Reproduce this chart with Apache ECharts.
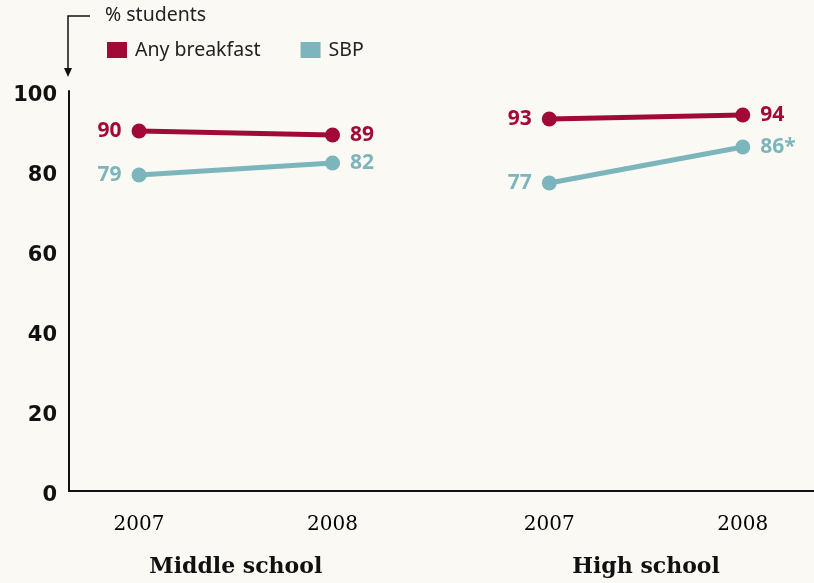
<!DOCTYPE html>
<html>
<head>
<meta charset="utf-8">
<script src="https://cdn.jsdelivr.net/npm/echarts@6/dist/echarts.min.js"></script>
<style>
  html, body { margin: 0; padding: 0; background: #faf9f4; }
  #chart { width: 814px; height: 583px; }
</style>
</head>
<body>
<div id="chart"></div>
<script>
var years = ['2007', '2008'];
var groups = ['Middle school', 'High school'];
var breakfast = [[90, 89], [93, 94]];
var sbp = [[79, 82], [77, 86]];
var sbpLabels = [['79', '82'], ['77', '86*']];
var yTicks = [0, 20, 40, 60, 80, 100];

var RED = '#a10a36';
var TEAL = '#7cb6bc';
var GROUP_GAP = 0.12;   // extra space between the two school groups

function xOf(g, i) { return g * (years.length + GROUP_GAP) + i; }

var yearPos = [], yearName = {}, groupPos = [], groupName = {};
groups.forEach(function (gname, g) {
    years.forEach(function (y, i) {
        var x = xOf(g, i);
        yearPos.push(x);
        yearName[x.toFixed(2)] = y;
    });
    var mid = (xOf(g, 0) + xOf(g, years.length - 1)) / 2;
    groupPos.push(mid);
    groupName[mid.toFixed(2)] = gname;
});

function makeSeries(name, color, values, labels) {
    return values.map(function (vals, g) {
        return {
            name: name,
            type: 'line',
            xAxisIndex: 0,
            symbol: 'circle',
            symbolSize: 15,
            color: color,
            lineStyle: { width: 5, color: color },
            itemStyle: { color: color },
            z: name === 'SBP' ? 2 : 3,
            data: vals.map(function (v, i) {
                return {
                    value: [xOf(g, i), v],
                    label: {
                        show: true,
                        position: i === 0 ? 'left' : 'right',
                        distance: 10,
                        formatter: labels ? labels[g][i] : String(v),
                        color: color,
                        fontFamily: 'Noto Sans',
                        fontWeight: 'bold',
                        fontSize: 21
                    }
                };
            })
        };
    });
}

var chart = echarts.init(document.getElementById('chart'));
var option = {
    backgroundColor: '#faf9f4',
    animation: false,
    legend: {
        left: 107,
        top: 40,
        padding: 0,
        icon: 'rect',
        itemWidth: 20,
        itemHeight: 16,
        itemGap: 40,
        textStyle: { fontFamily: 'Noto Sans', fontSize: 19.5, color: '#222', padding: [0, 0, 0, 3] },
        data: ['Any breakfast', 'SBP']
    },
    grid: { left: 69, right: 0, top: 91, bottom: 92 },
    xAxis: [{
        type: 'value',
        min: -0.362,
        max: 3.488,
        axisLine: { show: true, onZero: false, lineStyle: { color: '#111', width: 2 } },
        axisTick: { show: false },
        splitLine: { show: false },
        axisLabel: {
            customValues: yearPos,
            margin: 24,
            fontFamily: 'DejaVu Serif',
            fontSize: 20,
            color: '#000',
            formatter: function (v) { return yearName[v.toFixed(2)] || ''; }
        }
    }, {
        type: 'value',
        position: 'bottom',
        offset: 57,
        min: -0.362,
        max: 3.488,
        axisLine: { show: false },
        axisTick: { show: false },
        splitLine: { show: false },
        axisLabel: {
            customValues: groupPos,
            margin: 8,
            fontFamily: 'DejaVu Serif',
            fontWeight: 'bold',
            fontSize: 22,
            color: '#111',
            formatter: function (v) { return groupName[v.toFixed(2)] || ''; }
        }
    }],
    yAxis: {
        type: 'value',
        min: yTicks[0],
        max: yTicks[yTicks.length - 1],
        interval: 20,
        axisLine: { show: true, onZero: false, lineStyle: { color: '#111', width: 2 } },
        axisTick: { show: false },
        splitLine: { show: false },
        axisLabel: {
            margin: 12,
            verticalAlign: 'top',
            lineHeight: 10,
            fontFamily: 'DejaVu Sans',
            fontWeight: 'bold',
            fontSize: 21,
            color: '#111'
        }
    },
    graphic: [
        {
            type: 'polyline',
            shape: { points: [[90, 16], [68, 16], [68, 70]] },
            style: { stroke: '#111', lineWidth: 1.5, fill: null }
        },
        {
            type: 'polygon',
            shape: { points: [[64, 68], [72, 68], [68, 77]] },
            style: { fill: '#111' }
        },
        {
            type: 'text',
            left: 105,
            top: 5,
            style: { text: '% students', fontFamily: 'Noto Sans', fontSize: 19.5, fill: '#222' }
        }
    ],
    series: makeSeries('SBP', TEAL, sbp, sbpLabels)
        .concat(makeSeries('Any breakfast', RED, breakfast, null))
};
chart.setOption(option);
</script>
</body>
</html>
